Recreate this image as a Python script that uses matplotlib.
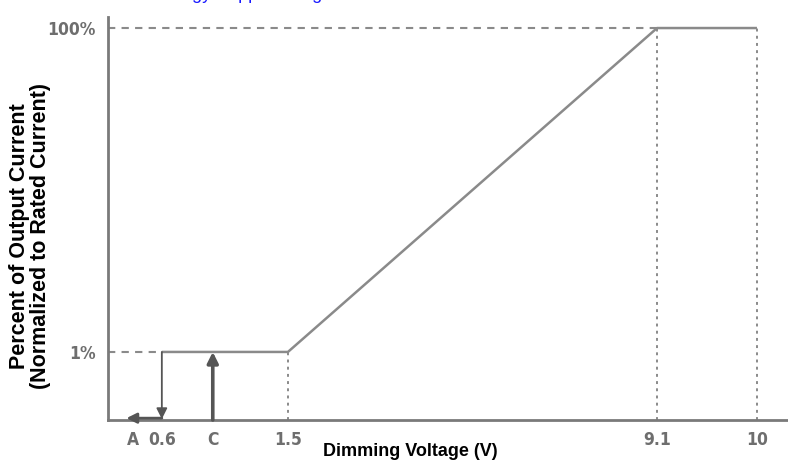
import numpy as np
import matplotlib
matplotlib.use("Agg")
import matplotlib.pyplot as plt

# tick labels along the (non-linear, schematic) voltage axis and where they sit
tick_labels = ["A", "0.6", "C", "1.5", "9.1", "10"]
tick_pos = [0.52, 1.11, 2.16, 3.71, 11.32, 13.38]

# dimming curve: voltage -> percent of rated current
volt_pts = [0.6, 1.5, 9.1, 10]
volt_pos = [1.11, 3.71, 11.32, 13.38]
current_pct = [1, 1, 100, 100]

ytick_vals = [1, 100]
ytick_labels = ["1%", "100%"]

GREY = "#8a8a8a"
TXT = "#6e6e6e"

fig = plt.figure(figsize=(7.88, 4.65), dpi=100)
ax = fig.add_axes([108 / 788, 45 / 465, 680 / 788, 403 / 465])
ax.set_yscale("log")
ax.set_xlim(0, 14.02)
ax.set_ylim(0.38, 117)

xs = np.interp(volt_pts, volt_pts, volt_pos)
ax.plot(xs, current_pct, color=GREY, lw=1.8, solid_capstyle="butt")

# guide lines
ax.plot([0, xs[0]], [current_pct[0]] * 2, color=GREY, lw=1.5, dashes=(3.5, 3))
ax.plot([0, xs[2]], [current_pct[2]] * 2, color=GREY, lw=1.5, dashes=(3.5, 3))
for x, y in zip(xs[1:], current_pct[1:]):
    ax.plot([x, x], [0.38, y], color=GREY, lw=1.4, dashes=(1.5, 2.2))

# arrows: 0.6 drop then left to A, and C rising up to 1%
ax.annotate("", xy=(xs[0], 0.385), xytext=(xs[0], current_pct[0]),
            arrowprops=dict(arrowstyle="-|>", color="#555555", lw=1.3,
                            mutation_scale=16, shrinkA=0, shrinkB=0))
ax.annotate("", xy=(0.38, 0.39), xytext=(xs[0], 0.39),
            arrowprops=dict(arrowstyle="-|>", color="#555555", lw=2.0,
                            mutation_scale=15, shrinkA=0, shrinkB=0))
ax.annotate("", xy=(tick_pos[2], 1.0), xytext=(tick_pos[2], 0.38),
            arrowprops=dict(arrowstyle="-|>", color="#555555", lw=2.6,
                            mutation_scale=16, shrinkA=0, shrinkB=0))

ax.set_xticks(tick_pos)
ax.set_xticklabels(tick_labels)
ax.set_yticks(ytick_vals)
ax.set_yticklabels(ytick_labels)
ax.minorticks_off()
ax.tick_params(length=0, colors=TXT, labelsize=12.5)
ax.tick_params(axis="x", pad=8)
ax.tick_params(axis="y", pad=9)
for lab in ax.get_xticklabels() + ax.get_yticklabels():
    lab.set_fontweight("bold")
    lab.set_fontstretch("condensed")

for s in ["top", "right"]:
    ax.spines[s].set_visible(False)
for s in ["left", "bottom"]:
    ax.spines[s].set_color("#7a7a7a")
    ax.spines[s].set_linewidth(2)

fig.text(410 / 788, 1 - 451 / 465, "Dimming Voltage (V)", ha="center", va="center",
         fontsize=13, fontweight="bold", family="Liberation Sans")
fig.text(30 / 788, 1 - 236 / 465, "Percent of Output Current\n(Normalized to Rated Current)",
         ha="center", va="center", rotation=90, multialignment="center",
         fontsize=15.5, fontweight="bold", family="Liberation Sans", linespacing=0.98)

# clipped link text at the very top
fig.text(120 / 788, 1 + 1 / 465, "Technology Support Program", color="#1a1aff",
         fontsize=13, ha="left", va="baseline", family="Liberation Sans")

fig.savefig("out.png", dpi=100, facecolor="white")
